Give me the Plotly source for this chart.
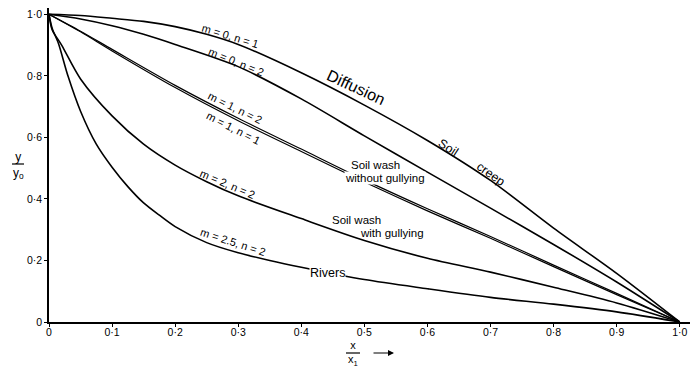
import plotly.graph_objects as go

# ---- data ----
x_m0n1 = [0, 0.05, 0.1, 0.15, 0.2, 0.25, 0.3, 0.4, 0.5, 0.6, 0.7, 0.8, 0.9, 1.0]
y_m0n1 = [1.0, 0.996, 0.987, 0.977, 0.960, 0.935, 0.902, 0.81, 0.705, 0.59, 0.46, 0.305, 0.158, 0.0]

x_m0n2 = [0, 0.05, 0.1, 0.15, 0.2, 0.3, 0.4, 0.5, 0.6, 0.7, 0.8, 0.9, 1.0]
y_m0n2 = [1.0, 0.985, 0.963, 0.935, 0.902, 0.83, 0.725, 0.605, 0.487, 0.37, 0.252, 0.13, 0.0]

x_m1 = [0, 0.05, 0.1, 0.2, 0.3, 0.4, 0.5, 0.6, 0.7, 0.8, 0.9, 1.0]
y_m1n2 = [1.0, 0.945, 0.886, 0.769, 0.662, 0.562, 0.462, 0.368, 0.278, 0.185, 0.093, 0.0]
y_m1n1 = [1.0, 0.943, 0.881, 0.762, 0.654, 0.554, 0.455, 0.361, 0.272, 0.18, 0.089, 0.0]

x_m2n2 = [0, 0.005, 0.02, 0.05, 0.1, 0.15, 0.2, 0.25, 0.3, 0.4, 0.5, 0.6, 0.7, 0.8, 0.9, 1.0]
y_m2n2 = [1.0, 0.95, 0.9, 0.79, 0.67, 0.578, 0.51, 0.456, 0.41, 0.336, 0.265, 0.207, 0.162, 0.113, 0.062, 0.0]

x_m25n2 = [0, 0.005, 0.015, 0.03, 0.05, 0.075, 0.1, 0.125, 0.15, 0.175, 0.2, 0.25, 0.3, 0.35, 0.4, 0.5, 0.6, 0.7, 0.8, 0.9, 1.0]
y_m25n2 = [1.0, 0.955, 0.905, 0.80, 0.685, 0.578, 0.503, 0.44, 0.387, 0.347, 0.31, 0.258, 0.225, 0.2, 0.178, 0.138, 0.108, 0.08, 0.058, 0.033, 0.0]

x_ticks = [0, 0.1, 0.2, 0.3, 0.4, 0.5, 0.6, 0.7, 0.8, 0.9, 1.0]
x_ticklabels = ["0", "0·1", "0·2", "0·3", "0·4", "0·5", "0·6", "0·7", "0·8", "0·9", "1·0"]
y_ticks = [0, 0.2, 0.4, 0.6, 0.8, 1.0]
y_ticklabels = ["0", "0·2", "0·4", "0·6", "0·8", "1·0"]

FONT = "Liberation Sans"
W, H = 691, 367
L, R, T, B = 49, 1, 8, 45

fig = go.Figure()
series = [
    (x_m0n1, y_m0n1, 1.6),
    (x_m0n2, y_m0n2, 1.6),
    (x_m1, y_m1n2, 1.2),
    (x_m1, y_m1n1, 1.2),
    (x_m2n2, y_m2n2, 1.6),
    (x_m25n2, y_m25n2, 1.6),
]
for xs, ys, w in series:
    fig.add_trace(go.Scatter(x=xs, y=ys, mode="lines",
                             line=dict(color="black", width=w, shape="spline", smoothing=0.8),
                             showlegend=False, hoverinfo="skip"))

def ann(text, x, y, angle=0, size=11, bg=None):
    d = dict(text=text, x=x, y=y, xref="x", yref="y", showarrow=False,
             xanchor="center", yanchor="middle",
             textangle=angle, font=dict(family=FONT, size=size, color="black"))
    if bg:
        d.update(bgcolor=bg, borderpad=0)
    fig.add_annotation(**d)

ann("m = 0, n = 1", 0.288, 0.930, 17)
ann("m = 0, n = 2", 0.298, 0.846, 22)
ann("Diffusion", 0.487, 0.762, 25, size=16)
ann("m = 1, n = 2", 0.296, 0.697, 26)
ann("m = 1, n = 1", 0.292, 0.630, 27)
ann("Soil", 0.634, 0.567, 33, size=12.5)
ann("creep", 0.700, 0.480, 35, size=12.5)
ann("Soil wash", 0.518, 0.510, size=11.5)
ann("without gullying", 0.532, 0.467, size=11.5, bg="white")
ann("m = 2, n = 2", 0.283, 0.447, 23)
ann("Soil wash", 0.487, 0.332, size=11.5)
ann("with gullying", 0.544, 0.290, size=11.5)
ann("m = 2.5, n = 2", 0.292, 0.259, 18)
ann("Rivers", 0.441, 0.160, size=12.5, bg="white")

def px2paper(px, py):
    return (px - L) / (W - L - R), (H - B - py) / (H - T - B)

def pann(text, px, py, size=12):
    xp, yp = px2paper(px, py)
    fig.add_annotation(text=text, x=xp, y=yp, xref="paper", yref="paper",
                       xanchor="center", yanchor="middle",
                       showarrow=False, font=dict(family=FONT, size=size, color="black"))

def pline(x0, y0, x1, y1, w=1.2):
    a0, b0 = px2paper(x0, y0)
    a1, b1 = px2paper(x1, y1)
    fig.add_shape(type="line", x0=a0, y0=b0, x1=a1, y1=b1, xref="paper", yref="paper",
                  line=dict(color="black", width=w))

# y axis title: y / y0 (stacked, with fraction bar)
pann("y<br>y<sub>o</sub>", 18, 165, size=12)
pline(12, 164, 24, 164)
# x axis title: x / x1  -->
pann("x<br>x<sub>1</sub>", 353, 353, size=11)
pline(346, 353, 360, 353)
hx, hy = px2paper(394, 353)
fig.add_annotation(x=hx, y=hy, xref="paper", yref="paper", axref="pixel", ayref="pixel",
                   ax=-22, ay=0, showarrow=True, arrowhead=2, arrowsize=1, arrowwidth=1.2,
                   arrowcolor="black", text="")

fig.update_layout(
    width=W, height=H,
    margin=dict(l=L, r=R, t=T, b=B),
    paper_bgcolor="white", plot_bgcolor="white",
    font=dict(family=FONT, color="black"),
    xaxis=dict(range=[0, 1.0163], tickvals=x_ticks, ticktext=x_ticklabels,
               showgrid=False, zeroline=False, showline=True, linecolor="black",
               linewidth=1.5, ticks="outside", ticklen=3, tickwidth=1, tickcolor="black",
               ticklabelstandoff=-3,
               tickfont=dict(family=FONT, size=10.5, color="black")),
    yaxis=dict(range=[0, 1.0205], tickvals=y_ticks, ticktext=y_ticklabels,
               showgrid=False, zeroline=False, showline=True, linecolor="black",
               linewidth=1.5, ticks="outside", ticklen=3, tickwidth=1, tickcolor="black",
               tickfont=dict(family=FONT, size=10.5, color="black")),
)

fig.write_html("out.html")
